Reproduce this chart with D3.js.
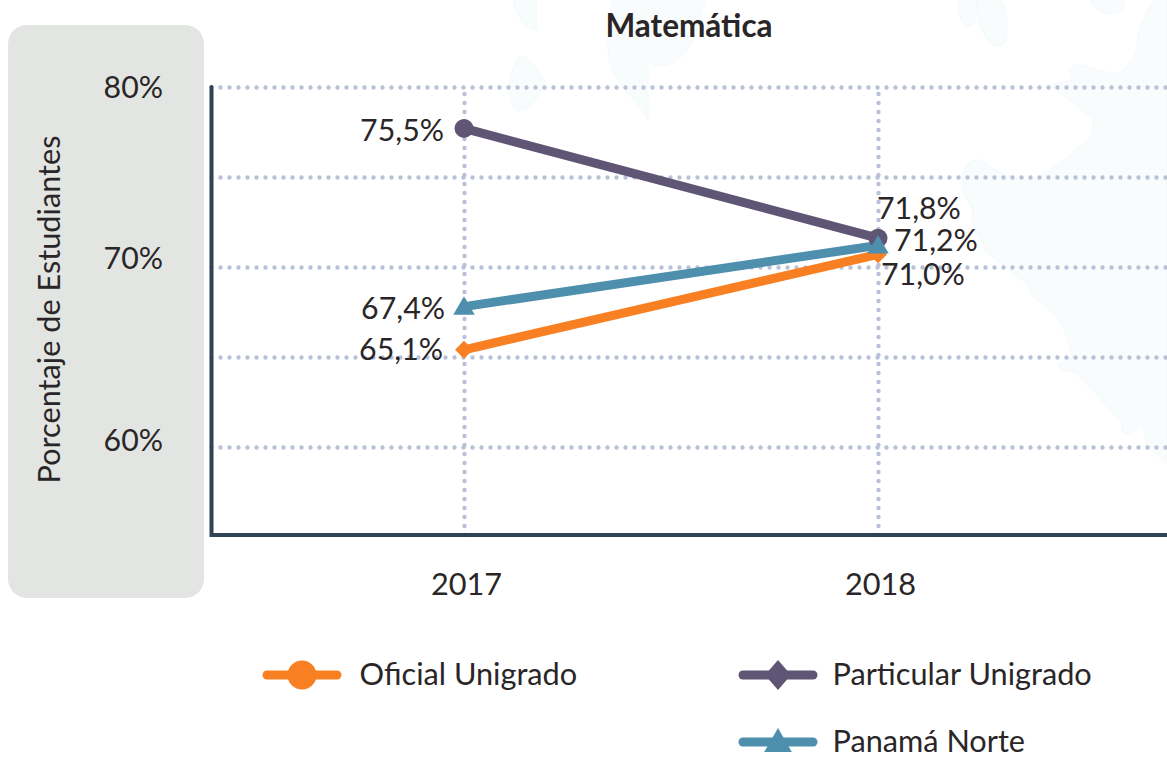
<!DOCTYPE html>
<html lang="es">
<head>
  <meta charset="UTF-8">
  <title>Matemática</title>
  <script src="https://d3js.org/d3.v7.min.js"></script>
  <style>
    html, body { margin: 0; padding: 0; background: #fff; overflow: hidden; }
    text { font-family: Lato, "Open Sans", sans-serif; fill: #2a2627; font-size: 30.7px; }
    .small { font-size: 30.3px; }
    .grid line { stroke: #b8c1d8; stroke-width: 4.4; stroke-linecap: round; stroke-dasharray: 0 9; }
    .grid path { display: none; }
  </style>
</head>
<body>
  <svg width="1167" height="757"></svg>

  <script>
    // Datos
    const years = ["2017", "2018"];
    const seriesNames = ["Oficial Unigrado", "Particular Unigrado", "Panamá Norte"];
    const oficial = [65.4, 70.7];
    const particular = [77.7, 71.6];
    const norte = [67.8, 71.2];
    const oficialLabels = ["65,1%", "71,0%"];
    const particularLabels = ["75,5%", "71,8%"];
    const norteLabels = ["67,4%", "71,2%"];
    const gridValues = [80, 75, 70, 65, 60];
    const tickLabels = ["80%", "70%", "60%"];
    const tickLabelValues = [80, 70.5, 60.4];

    const colors = ["#f98022", "#5f5574", "#4f8fae"];
    const values = [oficial, particular, norte];
    const labels = [oficialLabels, particularLabels, norteLabels];

    const svg = d3.select("svg");
    const left = 211.5, right = 1167, top0 = 87, bottom = 535;

    const y = d3.scaleLinear().domain([80, 60]).range([87, 447]);
    const x = d3.scalePoint().domain(years).range([464, 878]);

    // Fondo: mapa muy claro
    const bg = svg.append("g").attr("fill", "#f9fcfc").attr("stroke", "#f5f9fc");
    [
      "M513,0 C515,15 525,28 537,30 L537,0 Z",
      "M520,57 C532,56 536,72 545,80 C540,95 530,112 516,110 C506,100 508,70 520,57 Z",
      "M612,0 C610,30 600,60 622,85 C632,100 646,112 648,120 L648,62 C670,75 695,50 700,20 L705,0 Z",
      "M958,0 C958,15 962,26 970,26 C976,26 977,10 976,0 Z",
      "M977,0 C976,20 985,45 998,46 C1010,46 1010,15 1000,0 Z",
      "M1090,0 C1095,15 1115,20 1125,5 L1125,0 Z",
      "M1153,0 C1145,15 1137,30 1137,43 C1137,52 1135,60 1120,73 C1110,74 1097,70 1085,66 C1075,63 1068,66 1069,72 L1073,78 C1065,83 1055,83 1050,85 L1073,103 L1093,118 C1095,125 1092,132 1090,137 C1082,145 1073,153 1060,163 L1043,175 C1030,183 1005,180 987,163 C980,158 970,160 968,165 C962,172 960,180 965,195 L973,210 L972,220 L975,230 L987,253 L1028,285 L1030,293 C1045,305 1058,318 1063,327 L1073,357 L1058,365 C1060,372 1075,370 1080,377 L1120,420 L1123,433 C1130,437 1138,424 1143,427 L1147,447 L1167,463 L1167,0 Z"
    ].forEach(d => bg.append("path").attr("d", d));

    // Panel gris del eje
    svg.append("rect")
      .attr("x", 8).attr("y", 25)
      .attr("width", 196).attr("height", 573)
      .attr("rx", 19)
      .attr("fill", "#e3e5e3");

    svg.append("text")
      .attr("transform", "translate(60,309.5) rotate(-90)")
      .attr("text-anchor", "middle")
      .text("Porcentaje de Estudiantes");

    // Título
    svg.append("text")
      .attr("x", 689).attr("y", 37)
      .attr("text-anchor", "middle")
      .style("font-weight", 700)
      .style("font-size", "31.5px")
      .text("Matemática");

    // Grilla
    svg.append("g")
      .attr("class", "grid")
      .attr("transform", `translate(${left},0)`)
      .call(d3.axisLeft(y).tickValues(gridValues).tickSize(-(right - left)).tickFormat(""));

    svg.append("g")
      .attr("class", "grid")
      .attr("transform", `translate(0,${bottom})`)
      .call(d3.axisBottom(x).tickSize(-(bottom - top0)).tickFormat(""));

    // Ejes
    svg.append("path")
      .attr("d", `M${left},${top0}V${bottom}H${right}`)
      .attr("fill", "none")
      .attr("stroke", "#2f4256")
      .attr("stroke-width", 4)
      .attr("stroke-linecap", "round");

    // Etiquetas de los ejes
    svg.selectAll(".ylab")
      .data(tickLabels)
      .enter().append("text")
      .attr("class", "small")
      .attr("x", 163)
      .attr("y", (d, i) => y(tickLabelValues[i]) + 11)
      .attr("text-anchor", "end")
      .text(d => d);

    svg.selectAll(".xlab")
      .data(years)
      .enter().append("text")
      .attr("x", d => x(d) + 2.5)
      .attr("y", 595)
      .attr("text-anchor", "middle")
      .text(d => d);

    // Líneas y marcadores
    const line = d3.line().x((d, i) => x(years[i])).y(d => y(d));

    values.forEach((vals, s) => {
      svg.append("path")
        .attr("d", line(vals))
        .attr("fill", "none")
        .attr("stroke", colors[s])
        .attr("stroke-width", 9);
    });

    // rombo: symbolDiamond ensanchado con sx; triángulo bajado con dy
    const chartMark = [
      { type: d3.symbolDiamond, size: 92, sx: 1.73, dy: 0 },
      { type: d3.symbolCircle, size: 283, sx: 1, dy: 0 },
      { type: d3.symbolTriangle, size: 200, sx: 1, dy: 2 }
    ];
    [1, 0, 2].forEach(s => {
      svg.selectAll(`.mark${s}`)
        .data(values[s])
        .enter().append("path")
        .attr("transform", (d, i) => `translate(${x(years[i])},${y(d) + chartMark[s].dy}) scale(${chartMark[s].sx},1)`)
        .attr("d", d3.symbol().type(chartMark[s].type).size(chartMark[s].size))
        .attr("fill", colors[s]);
    });

    // Etiquetas de datos
    const labelOffset = [
      [[-21, 10], [3, 31]],
      [[-20, 13], [-1, -19]],
      [[-19, 12], [16, 6]]
    ];
    labels.forEach((labs, s) => {
      labs.forEach((t, i) => {
        svg.append("text")
          .attr("class", "small")
          .attr("x", x(years[i]) + labelOffset[s][i][0])
          .attr("y", y(values[s][i]) + labelOffset[s][i][1])
          .attr("text-anchor", i === 0 ? "end" : "start")
          .text(t);
      });
    });

    // Leyenda
    const legendPos = [[263, 675], [739, 675], [739, 742]];
    const legendMark = [
      { type: d3.symbolCircle, size: 660, sx: 1, dy: 0 },
      { type: d3.symbolDiamond, size: 260, sx: 1.5, dy: 0 },
      { type: d3.symbolTriangle, size: 330, sx: 1, dy: 2 }
    ];
    seriesNames.forEach((name, s) => {
      const g = svg.append("g").attr("transform", `translate(${legendPos[s][0]},${legendPos[s][1]})`);
      g.append("line")
        .attr("x1", 4).attr("x2", 74)
        .attr("stroke", colors[s])
        .attr("stroke-width", 9)
        .attr("stroke-linecap", "round");
      g.append("path")
        .attr("transform", `translate(39,${legendMark[s].dy}) scale(${legendMark[s].sx},1)`)
        .attr("d", d3.symbol().type(legendMark[s].type).size(legendMark[s].size))
        .attr("fill", colors[s]);
      g.append("text")
        .attr("x", s === 0 ? 96.5 : 93.5)
        .attr("y", 10)
        .text(name);
    });
  </script>
</body>
</html>
